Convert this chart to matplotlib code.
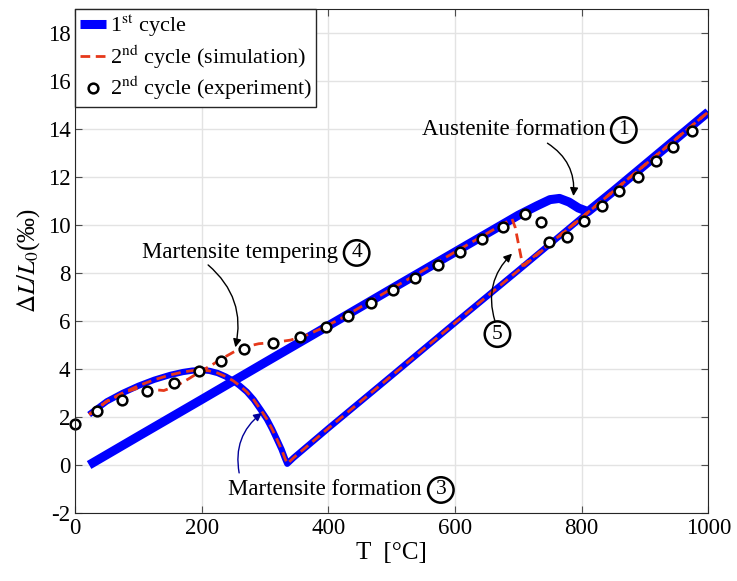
import numpy as np
import matplotlib
matplotlib.use('Agg')
import matplotlib.pyplot as plt

plt.rcParams['font.family'] = ['Liberation Serif', 'Noto Sans CJK JP']
plt.rcParams['mathtext.fontset'] = 'stix'
plt.rcParams['axes.unicode_minus'] = False

# ---- datos ----
# 1er ciclo, calentamiento
T_cal1 = [22, 100, 200, 300, 400, 500, 600, 700, 730, 750, 765, 780, 795, 810, 850, 900, 950, 1000]
L_cal1 = [0.0, 1.2, 2.73, 4.27, 5.8, 7.34, 8.87, 10.4, 10.8, 11.05, 11.1, 10.95, 10.7, 10.55, 11.4, 12.5, 13.6, 14.7]

# enfriamiento (igual en ambos ciclos)
T_enf = [1000, 900, 800, 700, 600, 500, 400, 345, 335, 331, 326, 319, 311, 303, 293, 282, 271, 260, 250,
         238, 225, 212, 200, 185, 170, 150, 125, 100, 75, 50, 22]
L_enf = [14.7, 12.5, 10.3, 8.1, 5.92, 3.72, 1.53, 0.3, 0.05, 0.3, 0.65, 1.05, 1.5, 1.9, 2.3, 2.72, 3.05, 3.3, 3.5,
         3.68, 3.83, 3.92, 3.95, 3.93, 3.87, 3.75, 3.55, 3.3, 3.0, 2.65, 2.1]

# 2do ciclo (simulacion), calentamiento
T_cal2 = [22, 50, 80, 100, 120, 140, 160, 180, 198, 215, 230, 250, 266, 290, 313, 340, 365, 390, 420,
          500, 600, 690, 695, 707, 800, 900, 1000]
L_cal2 = [2.1, 2.65, 3.05, 3.2, 3.15, 3.1, 3.3, 3.6, 3.9, 4.15, 4.4, 4.7, 4.9, 5.05, 5.1, 5.2, 5.4, 5.7, 6.1,
          7.34, 8.87, 10.25, 9.9, 8.3, 10.3, 12.5, 14.7]

# 2do ciclo (experimento)
T_exp = [0, 35, 74, 113, 156, 195, 230, 267, 312, 355, 396, 431, 467, 502, 537, 573, 608, 643, 676, 711,
         736, 749, 777, 804, 832, 859, 889, 917, 945, 974]
L_exp = [1.7, 2.25, 2.7, 3.1, 3.4, 3.9, 4.35, 4.85, 5.1, 5.33, 5.75, 6.2, 6.75, 7.3, 7.8, 8.33, 8.85, 9.4, 9.9, 10.45,
         10.1, 9.3, 9.5, 10.15, 10.8, 11.4, 12.0, 12.65, 13.25, 13.9]

azul = (0, 0, 1)
rojo = (0.9, 0.22, 0.1)

fig = plt.figure(figsize=(7.37, 5.81), dpi=100)
ax = fig.add_axes([0.102, 0.117, 0.859, 0.868])

l1, = ax.plot(T_cal1, L_cal1, '-', color=azul, lw=6.5, solid_capstyle='butt')
ax.plot(T_enf, L_enf, '-', color=azul, lw=4.5, solid_capstyle='butt', solid_joinstyle='round')
l2, = ax.plot(T_cal2 + T_enf, L_cal2 + L_enf, '--', color=rojo, lw=2, dashes=(3.5, 2))
l3, = ax.plot(T_exp, L_exp, 'o', ms=7, mfc='white', mec='black', mew=1.8, clip_on=False)

ax.set_xlim(0, 1000)
ax.set_ylim(-2, 19)
ax.set_xticks(range(0, 1001, 200))
ax.set_yticks(range(-2, 19, 2))
ax.tick_params(direction='in', top=True, right=True, labelsize=16.5, length=5, color='0.3')
for s in ax.spines.values():
    s.set_color('0.15')
ax.grid(True, color='0.89', lw=1)
ax.set_axisbelow(True)

ax.set_xlabel('T  [°C]', fontsize=18, labelpad=2)
ax.set_ylabel(r'$\Delta L/L_0$(‰)', fontsize=18, labelpad=4)

leg = ax.legend([l1, l2, l3],
                ['1$^{\\rm st}$ cycle', '2$^{\\rm nd}$ cycle (simulation)', '2$^{\\rm nd}$ cycle (experiment)'],
                loc='upper left', fontsize=16, handlelength=1.2, handletextpad=0.15,
                borderaxespad=0, borderpad=0.2, labelspacing=0.15, fancybox=False,
                edgecolor='0.15', framealpha=1)
leg.get_frame().set_linewidth(1)

fs_txt = 16.5
flecha = dict(arrowstyle='-|>', color='black', lw=1, mutation_scale=12, shrinkA=0, shrinkB=0)
circulo = dict(boxstyle='circle,pad=0.15', fc='none', ec='black', lw=1.8)


def etiqueta(x, y, texto, num):
    # x = fin del texto (dato)
    if texto:
        t = ax.text(x, y, texto, ha='right', va='center', fontsize=fs_txt)
        ax.annotate(num, xy=(1, 0.5), xycoords=t, xytext=(13.5, 0), textcoords='offset points',
                    ha='center', va='center', fontsize=fs_txt - 1, bbox=circulo)
    else:
        ax.text(x, y, num, ha='center', va='center', fontsize=fs_txt - 1, bbox=circulo)


etiqueta(837, 13.95, 'Austenite formation', '1')
ax.annotate('', xy=(787, 11.2), xytext=(746, 13.4),
            arrowprops=dict(flecha, connectionstyle='arc3,rad=-0.3'))

etiqueta(415, 8.83, 'Martensite tempering', '4')
ax.annotate('', xy=(253, 4.9), xytext=(210, 8.33),
            arrowprops=dict(flecha, connectionstyle='arc3,rad=-0.3'))

etiqueta(548, -1.04, 'Martensite formation', '3')
ax.annotate('', xy=(295, 2.17), xytext=(259, -0.33),
            arrowprops=dict(flecha, color=(0, 0, 0.6), connectionstyle='arc3,rad=-0.3'))

etiqueta(667, 5.45, '', '5')
ax.annotate('', xy=(690, 8.8), xytext=(663, 6.0),
            arrowprops=dict(flecha, connectionstyle='arc3,rad=-0.3'))

fig.savefig('out.png', dpi=100)
